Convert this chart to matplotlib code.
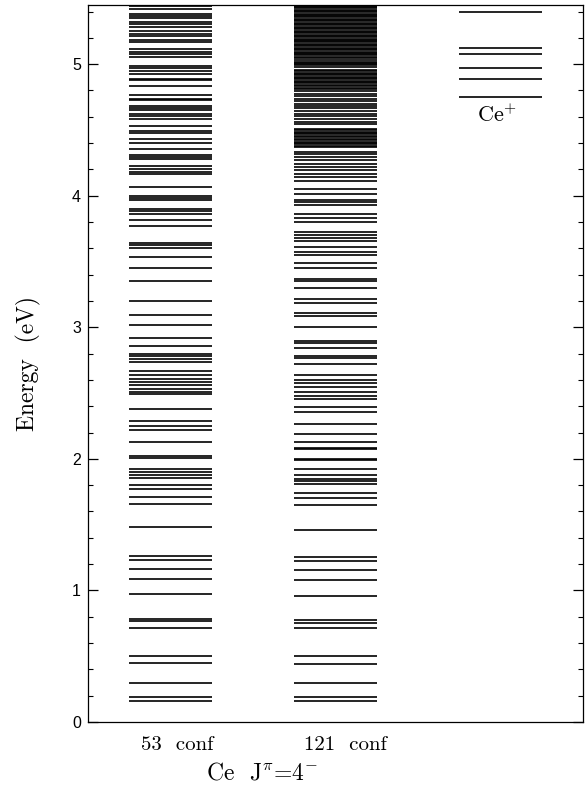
import matplotlib
matplotlib.use("Agg")
import matplotlib.pyplot as plt
from matplotlib.ticker import MultipleLocator

plt.rcParams["mathtext.fontset"] = "cm"
plt.rcParams["axes.unicode_minus"] = False

# energy levels (eV)
levels_53 = [
    0.162, 0.188, 0.299, 0.446, 0.499, 0.712, 0.768, 0.783, 0.973, 1.084,
    1.165, 1.231, 1.261,
    1.479, 1.657, 1.710, 1.768, 1.803, 1.852, 1.875, 1.900, 1.925, 2.008,
    2.021, 2.128, 2.217, 2.252, 2.285, 2.381, 2.490, 2.505, 2.533, 2.559,
    2.584, 2.606, 2.637, 2.669, 2.733, 2.760, 2.780,
    2.796, 2.855, 2.918, 3.019, 3.093, 3.199, 3.353, 3.452, 3.531, 3.600,
    3.622, 3.642, 3.769, 3.817, 3.858, 3.881, 3.896, 3.964, 3.982, 3.999,
    4.068,
    4.164, 4.179, 4.202, 4.227, 4.280, 4.296, 4.306, 4.359, 4.402, 4.432,
    4.478, 4.491, 4.529, 4.584, 4.603, 4.620, 4.650, 4.666, 4.683, 4.726,
    4.739, 4.765, 4.831, 4.876, 4.888, 4.924, 4.945, 4.972, 4.987, 5.051,
    5.074, 5.089, 5.114, 5.167, 5.185, 5.215, 5.233, 5.249, 5.283, 5.302,
    5.319, 5.350, 5.370, 5.385, 5.416, 5.440,
]

levels_121 = [
    0.162, 0.188, 0.294, 0.443, 0.499, 0.712, 0.755, 0.778, 0.960, 1.079,
    1.155, 1.221, 1.251,
    1.459, 1.647, 1.702, 1.740, 1.809, 1.831, 1.849, 1.879, 1.920, 1.991,
    1.998, 2.076, 2.084, 2.130, 2.188, 2.262, 2.358, 2.394, 2.452, 2.475,
    2.508, 2.543, 2.574, 2.601, 2.639, 2.720, 2.765,
    2.781, 2.840, 2.880, 2.895, 3.002, 3.085, 3.110, 3.186, 3.212, 3.296,
    3.351, 3.369, 3.448, 3.486, 3.546, 3.571, 3.609, 3.655, 3.678, 3.701,
    3.723, 3.797, 3.830, 3.862, 3.926, 3.951, 3.969, 4.012, 4.052, 4.111,
    4.144, 4.169, 4.195, 4.220, 4.245, 4.271, 4.296, 4.316, 4.334, 4.367,
    4.379, 4.390, 4.402, 4.410, 4.422, 4.430, 4.443, 4.455, 4.466, 4.475,
    4.486, 4.500, 4.511, 4.542, 4.562, 4.587, 4.605, 4.625, 4.643, 4.666,
    4.681, 4.701, 4.720, 4.737, 4.755, 4.770, 4.793, 4.808, 4.820, 4.833,
    4.845, 4.856, 4.867, 4.875, 4.885, 4.895, 4.905, 4.915, 4.925, 4.935,
    4.945, 4.959, 4.975, 4.990, 5.000, 5.010, 5.020, 5.035, 5.045, 5.055,
    5.066, 5.075, 5.085, 5.095, 5.105, 5.114, 5.125, 5.137, 5.145, 5.155,
    5.167, 5.175, 5.185, 5.195, 5.205, 5.215, 5.225, 5.235, 5.245, 5.255,
    5.265, 5.275, 5.285, 5.295, 5.305, 5.315, 5.325, 5.335, 5.345, 5.355,
    5.365, 5.375, 5.385, 5.395, 5.405, 5.415, 5.425, 5.435, 5.445,
]

levels_ion = [4.75, 4.89, 4.97, 5.08, 5.12, 5.40]

columns = [(levels_53, 0.5, 1.5), (levels_121, 2.5, 3.5), (levels_ion, 4.5, 5.5)]

fig = plt.figure(figsize=(5.87, 7.90), dpi=100)
ax = fig.add_axes([0.150, 0.0861, 0.843, 0.9076])

for lv, x0, x1 in columns:
    ax.hlines(lv, x0, x1, colors="black", linewidth=1.2)

ax.set_xlim(0, 6)
ax.set_ylim(0, 5.45)
ax.set_xticks([])
ax.yaxis.set_major_locator(MultipleLocator(1))
ax.yaxis.set_minor_locator(MultipleLocator(0.2))
ax.tick_params(axis="y", which="both", direction="in", left=True, right=True)
ax.tick_params(axis="y", which="major", length=7, width=0.9, labelsize=11.5, pad=5)
ax.tick_params(axis="y", which="minor", length=3.5, width=0.8)
for lab in ax.get_yticklabels():
    lab.set_family("Liberation Sans")
for sp in ax.spines.values():
    sp.set_linewidth(0.9)

serif = dict(family="cmr10", ha="center", va="center")
fig.text(0.048, 0.5405, "Energy  (eV)", rotation=90, fontsize=17, **serif)
fig.text(0.3015, 0.0570, "53  conf", fontsize=15, **serif)
fig.text(0.5877, 0.0570, "121  conf", fontsize=15, **serif)
fig.text(0.446, 0.0215, r"Ce  J$^{\pi}$=4$^{-}$", fontsize=17, **serif)
fig.text(0.8467, 0.8545, r"Ce$^{+}$", fontsize=16, **serif)

fig.savefig("out.png", dpi=100)
